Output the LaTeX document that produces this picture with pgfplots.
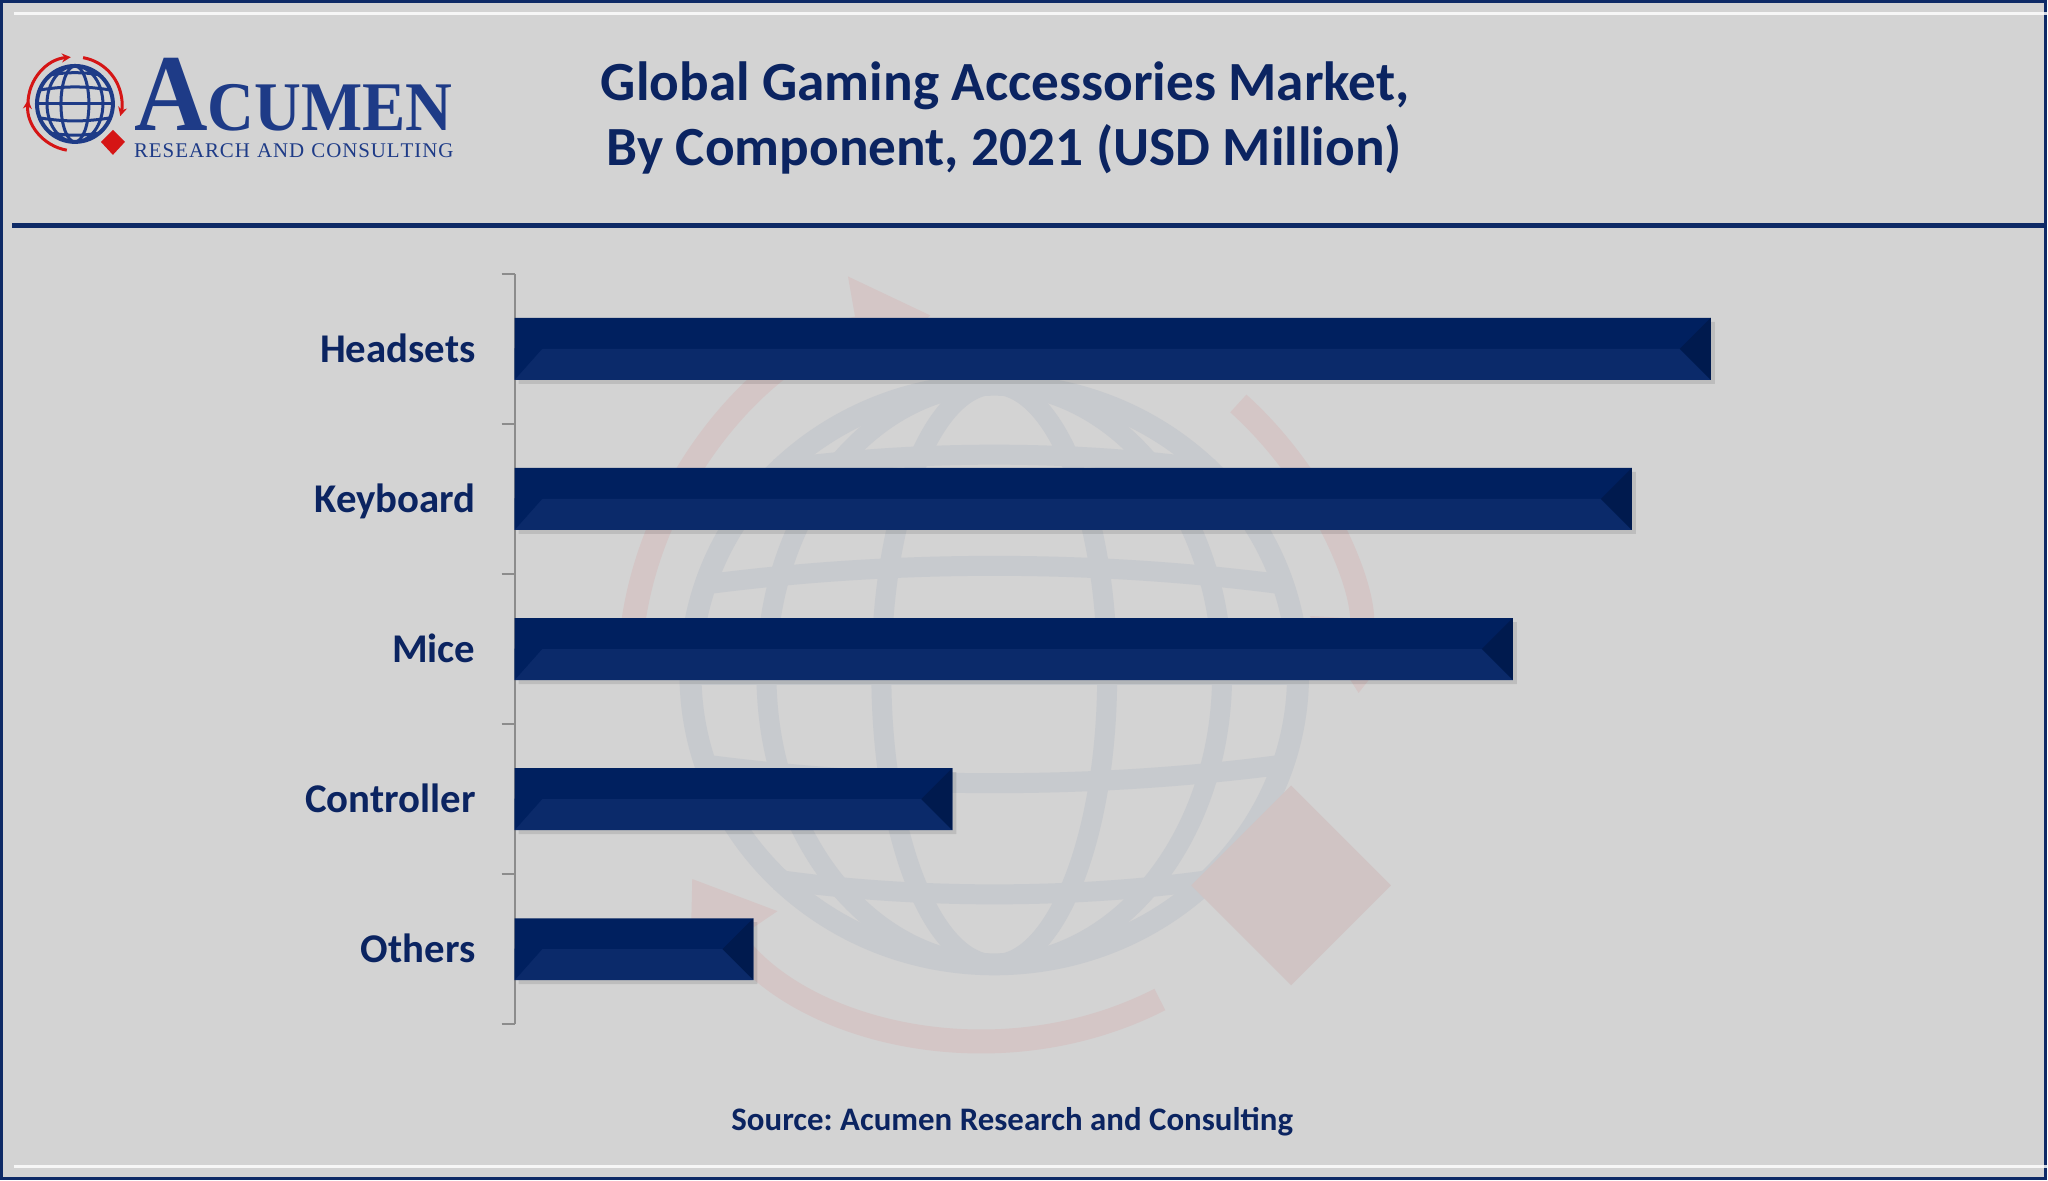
\documentclass[border=0pt]{standalone}
\usepackage{pgfplots}
\pgfplotsset{compat=1.18}
\usepackage{pgfplotstable}
\usepackage{fontspec}
\setmainfont{Carlito}
\newfontfamily\logofont{Liberation Serif}
\usetikzlibrary{arrows.meta}
\definecolor{bgc}{HTML}{D3D3D3}
\definecolor{navy}{HTML}{0B2461}
\definecolor{framec}{HTML}{0E2A66}
\definecolor{logoblue}{HTML}{1E3B87}
\definecolor{logored}{HTML}{D51515}
\definecolor{bartop}{HTML}{00205F}
\definecolor{barbot}{HTML}{0B2A6A}
\definecolor{barend}{HTML}{001A4E}
\definecolor{axgray}{HTML}{8C8C8C}
\definecolor{wmgray}{HTML}{C7CACE}
\definecolor{wmred}{HTML}{D4C6C6}
\definecolor{wmdiam}{HTML}{D0C4C4}
\pgfdeclareplotmark{bevelR}{%
  \pgfpathmoveto{\pgfpoint{0bp}{31bp}}%
  \pgfpathlineto{\pgfpoint{-31bp}{0bp}}%
  \pgfpathlineto{\pgfpoint{0bp}{-31bp}}%
  \pgfpathclose\pgfusepathqfill}
\pgfdeclareplotmark{bevelL}{%
  \pgfpathmoveto{\pgfpoint{0bp}{0.5bp}}%
  \pgfpathlineto{\pgfpoint{28bp}{0.5bp}}%
  \pgfpathlineto{\pgfpoint{0bp}{-31bp}}%
  \pgfpathclose\pgfusepathqfill}
\pgfplotstableread{
pos value
4 1197
3 1118
2 999
1 438
0 239
}\datatable
\newcommand\lk{\kern0.95bp}
\begin{document}
\frenchspacing
\begin{tikzpicture}[x=1bp,y=1bp]
% background and frame
\fill[bgc] (0,0) rectangle (2048,-1181);
\draw[framec, line width=3bp] (1.5,-1.5) rectangle (2046.5,-1179.5);
\draw[white, line width=3bp, opacity=0.8] (14,-14) -- (2048,-14);
\draw[white, line width=3bp, opacity=0.8] (14,-1167) -- (2048,-1167);
\fill[framec] (12,-223) rectangle (2048,-228);
% watermark globe
\begin{scope}[shift={(995,-675)}]
  \draw[wmgray, line width=22bp] (0,0) ellipse (304 and 290);
  \draw[wmgray, line width=20bp] (0,0) ellipse (113 and 290);
  \draw[wmgray, line width=20bp] (0,0) ellipse (228 and 290);
  \draw[wmgray, line width=20bp] (-300,0) -- (300,0);
  \draw[wmgray, line width=20bp] (-290,90) .. controls (-100,115) and (100,115) .. (290,90);
  \draw[wmgray, line width=20bp] (-290,-90) .. controls (-100,-115) and (100,-115) .. (290,-90);
  \draw[wmgray, line width=20bp] (-220,205) .. controls (-80,225) and (80,225) .. (220,205);
  \draw[wmgray, line width=20bp] (-220,-205) .. controls (-80,-225) and (80,-225) .. (220,-205);
  \draw[wmred, line width=24bp, -{Triangle[length=75bp,width=100bp]}] (172:365) arc (172:100:365);
  \draw[wmred, line width=24bp, -{Triangle[length=75bp,width=100bp]}] (48:365) arc (48:-3:365);
  \draw[wmred, line width=24bp, -{Triangle[length=75bp,width=100bp]}] (297:365) arc (297:214:365);
  \fill[wmdiam] (297,-111) -- (397,-211) -- (297,-311) -- (197,-211) -- cycle;
\end{scope}
% logo
\begin{scope}[shift={(75,-104)}]
  \draw[logoblue, line width=4bp] (0,0) circle (38);
  \draw[logoblue, line width=3bp] (0,0) ellipse (14 and 38);
  \draw[logoblue, line width=3bp] (0,0) ellipse (28 and 38);
  \draw[logoblue, line width=3bp] (-38,0) -- (38,0);
  \draw[logoblue, line width=3bp] (-35,14) .. controls (-10,18) and (10,18) .. (35,14);
  \draw[logoblue, line width=3bp] (-35,-14) .. controls (-10,-18) and (10,-18) .. (35,-14);
  \draw[logoblue, line width=3bp] (-25,29) .. controls (-8,32) and (8,32) .. (25,29);
  \draw[logoblue, line width=3bp] (-25,-29) .. controls (-8,-32) and (8,-32) .. (25,-29);
  \draw[logored, line width=3bp, -{Stealth[length=9bp,width=9bp]}] (180:47) arc (180:95:47);
  \draw[logored, line width=3bp, -{Stealth[length=9bp,width=9bp]}] (80:47) arc (80:-15:47);
  \draw[logored, line width=3bp, -{Stealth[length=9bp,width=9bp]}] (-100:47) arc (-100:-185:47);
  \fill[logored] (38,-26) -- (50,-38) -- (38,-51) -- (26,-38) -- cycle;
\end{scope}
\node[anchor=base west, inner sep=0pt, text depth=0pt, logoblue] at (134,-131)
  {\scalebox{0.93}[1]{\logofont\bfseries\fontsize{110}{110}\selectfont A\fontsize{70}{70}\selectfont CUMEN}};
\node[anchor=base west, inner sep=0pt, text depth=0pt, text height=14bp, logoblue] at (134,-158)
  {\logofont\fontsize{21}{22}\selectfont R\lk E\lk S\lk E\lk A\lk R\lk C\lk H\lk\ \lk A\lk N\lk D\lk\ \lk C\lk O\lk N\lk S\lk U\lk L\lk T\lk I\lk N\lk G};
% title
\node[anchor=base, inner sep=0pt, navy] at (1006,-101)
  {\fontsize{55.5}{60}\selectfont\bfseries Global Gaming Accessories Market,};
\node[anchor=base, inner sep=0pt, navy] at (1005,-166)
  {\fontsize{55.5}{60}\selectfont\bfseries By Component, 2021 (USD Million)};
% source
\node[anchor=base, inner sep=0pt, navy] at (1013,-1131)
  {\fontsize{33}{36}\selectfont\bfseries Source: Acumen Research and Consulting};
% chart
\begin{axis}[
  at={(515bp,-1025bp)}, anchor=south west,
  scale only axis, width=1500bp, height=751bp,
  xmin=0, xmax=1500, ymin=-0.5, ymax=4.5,
  axis x line=none, axis y line*=left,
  axis line style={draw=axgray, line width=2bp},
  ytick={0,1,2,3,4},
  yticklabels={Others,Controller,Mice,Keyboard,Headsets},
  major tick length=0pt,
  yticklabel style={anchor=east, inner sep=0pt, xshift=-39bp,
    text height=26.5bp, text depth=0pt, font=\fontsize{41}{44}\selectfont\bfseries, text=navy},
  extra y ticks={-0.5,0.5,1.5,2.5,3.5,4.5},
  extra y tick labels={},
  extra y tick style={major tick length=13bp, tick align=outside,
    tick style={draw=axgray, line width=2bp}},
  clip=false,
]
\addplot[xbar, bar width=62bp, bar shift=-4bp, xshift=4bp, fill=black, opacity=0.10, draw=none] table[x=value, y=pos] {\datatable};
\addplot[xbar, bar width=31bp, bar shift=15.5bp, fill=bartop, draw=none] table[x=value, y=pos] {\datatable};
\addplot[xbar, bar width=31bp, bar shift=-15.5bp, fill=barbot, draw=none] table[x=value, y=pos] {\datatable};
\addplot[only marks, mark=bevelL, mark options={fill=bartop, draw=none}] table[x expr=0, y=pos] {\datatable};
\addplot[only marks, mark=bevelR, mark options={fill=barend, draw=none}] table[x=value, y=pos] {\datatable};
\end{axis}
\end{tikzpicture}
\end{document}
